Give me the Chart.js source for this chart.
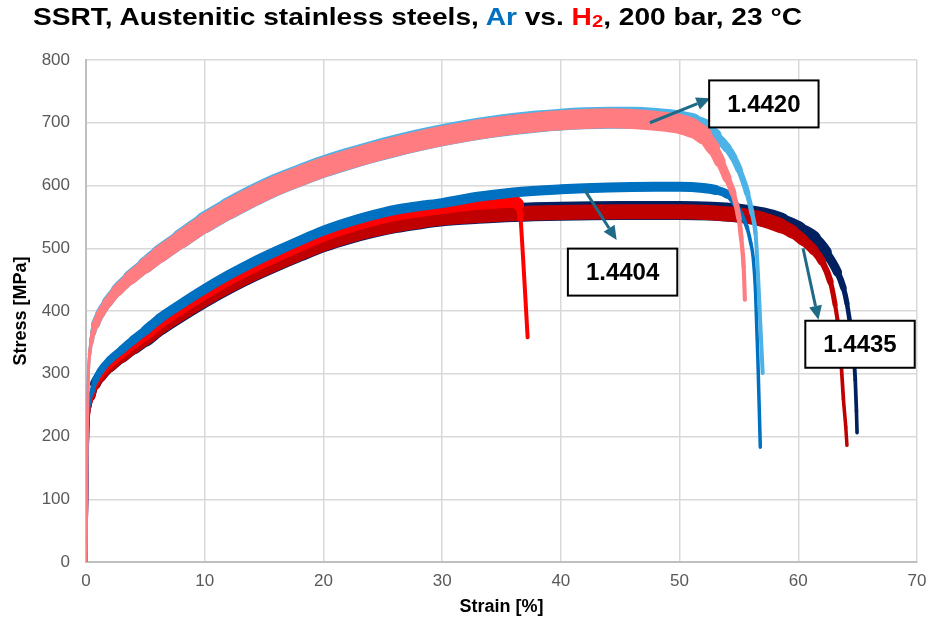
<!DOCTYPE html>
<html>
<head>
<meta charset="utf-8">
<script src="https://cdn.jsdelivr.net/npm/chart.js@4.4.1/dist/chart.umd.min.js"></script>
<style>
  body { margin: 0; background: #fff; }
  #wrap { position: relative; width: 928px; height: 626px; }
  canvas { position: absolute; left: 0; top: 0; }
  #title {
    position: absolute; left: 33px; top: 2px;
    font: bold 24px "Liberation Sans", Arial, sans-serif; line-height: 30px;
    color: #000; white-space: nowrap; transform-origin: 0 0;
  }
  #title .sub { font-size: 0.72em; position: relative; top: 2px; }
</style>
</head>
<body>
<div id="wrap">
  <canvas id="chart" width="928" height="626"></canvas>
  <div id="title">SSRT, Austenitic stainless steels, <span style="color:#0070C0">Ar</span> vs. <span style="color:#FF0000">H<span class="sub">2</span></span>, 200 bar, 23 °C</div>
</div>
<script>
// fit the title to the width it has in the original
const titleEl = document.getElementById("title");
titleEl.style.transform = `scaleX(${769 / titleEl.getBoundingClientRect().width})`;

// axis ticks
const strainTicks = [0, 10, 20, 30, 40, 50, 60, 70];
const stressTicks = [0, 100, 200, 300, 400, 500, 600, 700, 800];

// 1.4420 in Ar
const strain1420Ar = [0, 0.05, 0.1, 0.15, 0.2, 0.3, 0.45, 0.6, 0.8, 1.2, 1.8, 2.6, 3.7, 5, 6.2, 8, 10, 12, 14, 16, 18, 20, 22, 24, 26, 28, 30, 32, 34, 36, 38, 40, 42, 44, 46, 48, 50, 51, 52, 53, 54, 54.5, 55, 55.7, 56.1, 56.4, 56.6, 56.8, 57.0];
const stress1420Ar = [0, 90, 190, 261, 301, 331, 351, 366, 379, 396, 414, 433, 453, 473, 491, 515, 541, 563, 583, 601, 616, 630, 642, 653, 663, 672, 680, 687, 693, 698, 702, 705, 707, 708, 708, 706, 702, 698, 692, 680, 660, 646, 626, 588, 556, 524, 460, 380, 301];
// 1.4420 in H2
const strain1420H2 = [0, 0.05, 0.1, 0.15, 0.2, 0.3, 0.45, 0.6, 0.8, 1.2, 1.8, 2.6, 3.7, 5, 6.2, 8, 10, 12, 14, 16, 18, 20, 22, 24, 26, 28, 30, 32, 34, 36, 38, 40, 42, 44, 46, 48, 50, 51, 52, 52.8, 53.4, 54, 54.5, 55, 55.2, 55.4, 55.5];
const stress1420H2 = [0, 90, 190, 260, 300, 330, 350, 365, 378, 395, 413, 432, 452, 472, 490, 514, 540, 562, 582, 600, 615, 629, 641, 652, 662, 671, 679, 686, 692, 697, 701, 704, 706, 707, 706, 703, 698, 692, 680, 660, 638, 612, 588, 548, 515, 470, 418];

// 1.4404 in Ar
const strain1404Ar = [0, 0.05, 0.1, 0.15, 0.2, 0.3, 0.5, 0.8, 1.2, 2, 3, 4, 5, 6.2, 8, 10, 12, 14, 16, 18, 20, 22, 24, 26, 28, 30, 33, 36, 40, 44, 48, 50, 52, 53, 54, 54.8, 55.3, 55.7, 56.0, 56.2, 56.4, 56.6, 56.8];
const stress1404Ar = [0, 80, 160, 212, 235, 254, 270, 290, 304, 322, 338, 354, 369, 388, 411, 435, 457, 477, 495, 512, 528, 541, 552, 561, 567, 572, 582, 589, 594, 597, 598, 598, 596, 593, 586, 568, 550, 532, 508, 485, 430, 320, 183];
// 1.4404 in H2
const strain1404H2 = [0, 0.05, 0.1, 0.15, 0.2, 0.3, 0.5, 0.8, 1.2, 2, 3, 4, 5, 6.2, 8, 10, 12, 14, 16, 18, 20, 22, 24, 26, 28, 30, 32, 34, 36, 36.4, 36.6, 36.8, 37.0, 37.2];
const stress1404H2 = [0, 80, 160, 210, 232, 250, 266, 286, 299, 316, 332, 348, 362, 381, 404, 428, 450, 469, 487, 504, 520, 533, 544, 553, 559, 564, 569, 572, 574, 570, 548, 490, 425, 358];

// 1.4435 in Ar
const strain1435Ar = [0, 0.05, 0.1, 0.15, 0.2, 0.3, 0.5, 0.8, 1.2, 2, 3, 4, 5, 6.2, 8, 10, 12, 14, 16, 18, 20, 22, 24, 26, 28, 30, 33, 36, 40, 45, 50, 55, 57, 58.5, 60, 61.3, 62.3, 63.3, 63.8, 64.1, 64.5, 64.7, 64.8, 64.9, 64.95];
const stress1435Ar = [0, 80, 160, 208, 230, 248, 264, 284, 296, 313, 329, 344, 358, 376, 398, 421, 442, 461, 478, 494, 509, 521, 531, 539, 545, 550, 554, 557, 559, 560, 560, 556, 550, 542, 530, 516, 494, 462, 437, 412, 359, 320, 290, 240, 206];
// 1.4435 in H2
const strain1435H2 = [0, 0.05, 0.1, 0.15, 0.2, 0.3, 0.5, 0.8, 1.2, 2, 3, 4, 5, 6.2, 8, 10, 12, 14, 16, 18, 20, 22, 24, 26, 28, 30, 33, 36, 40, 45, 50, 53, 55, 57, 58.5, 59.5, 60.4, 61.3, 62, 62.7, 63.1, 63.4, 63.6, 63.8, 64.0, 64.1];
const stress1435H2 = [0, 80, 160, 208, 230, 247, 262, 282, 294, 311, 327, 342, 356, 374, 396, 419, 440, 459, 476, 492, 507, 519, 529, 537, 543, 548, 552, 555, 557, 558, 558, 556, 553, 546, 536, 526, 513, 497, 479, 447, 410, 370, 320, 260, 215, 186];

// labels with arrows
const noteLabels = ["1.4420", "1.4404", "1.4435"];
const noteX = [57.1, 45.2, 65.2];
const noteY = [730, 462, 347];
const arrowFromX = [47.5, 42.0, 60.4];
const arrowFromY = [700, 593, 500];
const arrowToX = [52.6, 44.7, 61.7];
const arrowToY = [739, 513, 386];

function points(xs, ys) {
  return xs.map((v, i) => ({ x: v, y: ys[i] }));
}

// line width follows strain: thin elastic start, wide noisy band, thin tail
function widthAt(widths, s) {
  if (s <= widths[0][0]) return widths[0][1];
  for (let i = 1; i < widths.length; i++) {
    const [s1, w1] = widths[i];
    const [s0, w0] = widths[i - 1];
    if (s <= s1) return w0 + (w1 - w0) * (s - s0) / (s1 - s0);
  }
  return widths[widths.length - 1][1];
}

function series(label, xs, ys, color, widths) {
  return {
    label: label,
    data: points(xs, ys),
    borderColor: color,
    backgroundColor: color,
    borderWidth: widths[0][1],
    borderCapStyle: "round",
    borderJoinStyle: "round",
    segment: {
      borderWidth: (c) => widthAt(widths, (c.p0.parsed.x + c.p1.parsed.x) / 2),
    },
  };
}

const FONT = '"Liberation Sans", Arial, sans-serif';

const notesPlugin = {
  id: "notes",
  afterDatasetsDraw(chart) {
    const { ctx, scales: { x, y } } = chart;
    ctx.save();
    ctx.strokeStyle = "#1F6B87";
    ctx.fillStyle = "#1F6B87";
    ctx.lineWidth = 3;
    noteLabels.forEach((t, i) => {
      const x1 = x.getPixelForValue(arrowFromX[i]);
      const y1 = y.getPixelForValue(arrowFromY[i]);
      const x2 = x.getPixelForValue(arrowToX[i]);
      const y2 = y.getPixelForValue(arrowToY[i]);
      const a = Math.atan2(y2 - y1, x2 - x1);
      const hl = 14, hw = 6.5;
      const bx = x2 - hl * Math.cos(a);
      const by = y2 - hl * Math.sin(a);
      ctx.beginPath();
      ctx.moveTo(x1, y1);
      ctx.lineTo(bx, by);
      ctx.stroke();
      ctx.beginPath();
      ctx.moveTo(x2, y2);
      ctx.lineTo(bx + hw * Math.sin(a), by - hw * Math.cos(a));
      ctx.lineTo(bx - hw * Math.sin(a), by + hw * Math.cos(a));
      ctx.closePath();
      ctx.fill();
    });
    ctx.font = "bold 24px " + FONT;
    ctx.textAlign = "center";
    ctx.textBaseline = "middle";
    noteLabels.forEach((t, i) => {
      const cx = x.getPixelForValue(noteX[i]);
      const cy = y.getPixelForValue(noteY[i]);
      const w = ctx.measureText(t).width + 36;
      const h = 47;
      ctx.fillStyle = "#fff";
      ctx.fillRect(cx - w / 2, cy - h / 2, w, h);
      ctx.strokeStyle = "#000";
      ctx.lineWidth = 2;
      ctx.strokeRect(cx - w / 2, cy - h / 2, w, h);
      ctx.fillStyle = "#000";
      ctx.fillText(t, cx, cy + 1);
    });
    ctx.restore();
  },
};

new Chart(document.getElementById("chart"), {
  type: "scatter",
  data: {
    datasets: [
      series("1.4420 H2", strain1420H2, stress1420H2, "#FF7C80",
        [[0.3, 3], [1, 8], [6, 16], [12, 20], [51, 20], [53, 12], [54.5, 6], [55.5, 4]]),
      series("1.4420 Ar", strain1420Ar, stress1420Ar, "#4DB2E6",
        [[0.3, 3], [1, 9], [6, 17], [12, 22], [51, 22], [53, 10], [55, 7], [56.5, 4]]),
      series("1.4404 Ar", strain1404Ar, stress1404Ar, "#0070C0",
        [[0.3, 3], [1, 7], [6, 10], [53, 10], [55, 5], [56, 3.5]]),
      series("1.4404 H2", strain1404H2, stress1404H2, "#FF0000",
        [[0.3, 3], [1, 8], [6, 12], [36.2, 12], [36.6, 4]]),
      series("1.4435 H2", strain1435H2, stress1435H2, "#C00000",
        [[0.3, 3], [1, 9], [6, 15], [58, 15], [61.5, 9], [63.3, 4], [64, 3.5]]),
      series("1.4435 Ar", strain1435Ar, stress1435Ar, "#002060",
        [[0.3, 3], [1, 11], [6, 19], [58, 19], [62, 12], [64, 5], [65, 3.5]]),
    ],
  },
  options: {
    responsive: false,
    animation: false,
    devicePixelRatio: 1,
    showLine: true,
    elements: {
      point: { radius: 0, hoverRadius: 0 },
      line: { tension: 0, cubicInterpolationMode: "monotone" },
    },
    layout: { padding: { top: 60, right: 11, left: 0, bottom: 0 } },
    plugins: {
      legend: { display: false },
      tooltip: { enabled: false },
    },
    scales: {
      x: {
        type: "linear",
        min: 0,
        max: 70,
        afterFit: (s) => { s.height = 64; s.paddingLeft = 0; s.paddingRight = 0; },
        afterBuildTicks: (s) => { s.ticks = strainTicks.map((v) => ({ value: v })); },
        grid: { color: "#D9D9D9", lineWidth: 1.5, drawTicks: false },
        border: { color: "#BFBFBF", width: 2 },
        ticks: { color: "#595959", font: { family: FONT, size: 17 }, padding: 9 },
        title: {
          display: true,
          text: "Strain [%]",
          color: "#000",
          font: { family: FONT, size: 18, weight: "bold" },
          padding: { top: 4, bottom: 8 },
        },
      },
      y: {
        type: "linear",
        min: 0,
        max: 800,
        afterFit: (s) => { s.width = 86; },
        afterBuildTicks: (s) => { s.ticks = stressTicks.map((v) => ({ value: v })); },
        grid: { color: "#D9D9D9", lineWidth: 1.5, drawTicks: false },
        border: { color: "#BFBFBF", width: 2 },
        ticks: { color: "#595959", font: { family: FONT, size: 17 }, padding: 16 },
        title: {
          display: true,
          text: "Stress [MPa]",
          color: "#000",
          font: { family: FONT, size: 18, weight: "bold" },
          padding: { top: 10, bottom: 4 },
        },
      },
    },
  },
  plugins: [notesPlugin],
});
</script>
</body>
</html>
